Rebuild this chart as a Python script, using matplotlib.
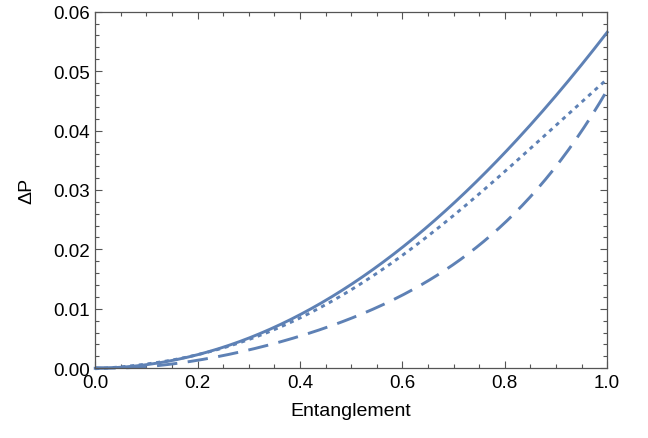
import numpy as np
import matplotlib.pyplot as plt
from matplotlib.ticker import MultipleLocator

# значения
x = [0.0, 0.1, 0.2, 0.3, 0.4, 0.5, 0.6, 0.7, 0.8, 0.9, 1.0]
solid = [0.0, 0.00057, 0.00226, 0.0051, 0.0090, 0.0141, 0.0204, 0.0277, 0.0362, 0.0460, 0.0565]
dotted = [0.0, 0.00055, 0.0022, 0.0049, 0.0086, 0.0133, 0.0189, 0.0255, 0.0330, 0.0413, 0.0485]
dashed = [0.0, 0.0004, 0.0014, 0.0032, 0.0050, 0.0082, 0.0127, 0.0176, 0.0246, 0.0335, 0.0470]

plt.rcParams['font.family'] = ['Liberation Sans', 'DejaVu Sans']
color = '#5E81B5'
frame = '#555555'

fig = plt.figure(figsize=(6.48, 4.39), dpi=100)
ax = fig.add_axes([0.147, 0.159, 0.790, 0.812])

# гладкие кривые через считанные точки
xs = np.linspace(0, 1, 200)
for ys, ls in [(solid, '-'), (dotted, (0, (1.4, 1.6))), (dashed, (0, (7, 3.6)))]:
    c = np.polyfit(x, ys, 4)
    ax.plot(xs, np.polyval(c, xs), color=color, lw=2.1, linestyle=ls,
            dash_capstyle='butt', clip_on=False)

ax.set_xlim(0, 1)
ax.set_ylim(0, 0.06)
ax.xaxis.set_major_locator(MultipleLocator(0.2))
ax.xaxis.set_minor_locator(MultipleLocator(0.05))
ax.yaxis.set_major_locator(MultipleLocator(0.01))
ax.yaxis.set_minor_locator(MultipleLocator(0.002))
ax.xaxis.set_major_formatter(plt.FuncFormatter(lambda v, p: f"{v:.1f}"))
ax.yaxis.set_major_formatter(plt.FuncFormatter(lambda v, p: f"{v:.2f}"))

ax.tick_params(which='both', direction='in', top=True, right=True,
               color=frame, width=0.8, labelsize=13.5, labelcolor='black', pad=4)
ax.tick_params(which='major', length=5)
ax.tick_params(which='minor', length=3)
for s in ax.spines.values():
    s.set_color(frame)
    s.set_linewidth(0.9)

ax.set_xlabel("Entanglement", fontsize=14, labelpad=8)
ax.set_ylabel("ΔP", fontsize=14, labelpad=13)

fig.savefig("out.png", dpi=100)
